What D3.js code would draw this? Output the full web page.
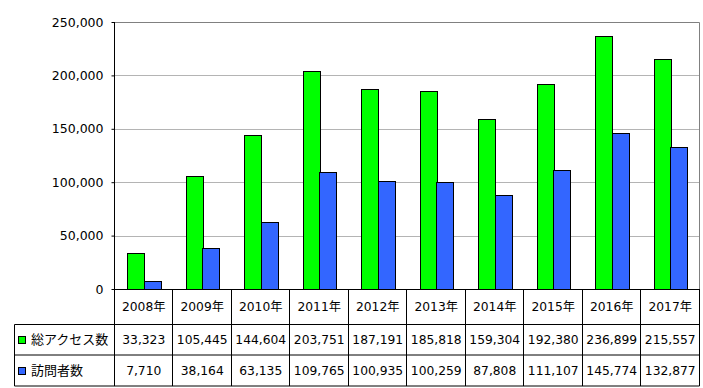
<!DOCTYPE html>
<html>
<head>
<meta charset="utf-8">
<script src="https://cdn.jsdelivr.net/npm/d3@7"></script>
<style>
  body { margin: 0; background: #fff; }
  text { font-family: "DejaVu Sans", "Noto Sans CJK JP", sans-serif; font-size: 12.3px; fill: #000; }
</style>
</head>
<body>
<svg id="chart" width="703" height="388"></svg>
<script>
const years = ['2008年', '2009年', '2010年', '2011年', '2012年', '2013年', '2014年', '2015年', '2016年', '2017年'];
const seriesNames = ['総アクセス数', '訪問者数'];
const seriesColors = ['#00ff00', '#3366ff'];
const totalAccess = [33323, 105445, 144604, 203751, 187191, 185818, 159304, 192380, 236899, 215557];
const visitors = [7710, 38164, 63135, 109765, 100935, 100259, 87808, 111107, 145774, 132877];
const yTicks = [0, 50000, 100000, 150000, 200000, 250000];

const seriesValues = [totalAccess, visitors];
const svg = d3.select('#chart');
const plotLeft = 114.5, plotRight = 699.5, plotTop = 22, plotBottom = 289;
const tableLeft = 14.5, row1 = 324.5, row2 = 355, row3 = 386;
const fmt = d3.format(',');

const x = d3.scaleBand().domain(years).range([plotLeft, plotRight]);
const groupW = x.bandwidth() * 0.565;
const xs = d3.scaleBand().domain(seriesNames).range([0, groupW]);
const y = d3.scaleLinear().domain([0, 250000]).range([plotBottom, plotTop]);

// gridlines
svg.append('g').selectAll('line')
  .data(yTicks.filter(d => d > 0 && d < 250000))
  .enter().append('line')
  .attr('x1', plotLeft).attr('x2', plotRight)
  .attr('y1', d => Math.round(y(d)) + 0.5).attr('y2', d => Math.round(y(d)) + 0.5)
  .attr('stroke', '#b4b4b4');

// top and right border
svg.append('path')
  .attr('d', `M${plotLeft},${plotTop + 0.5}H${plotRight}V${plotBottom}`)
  .attr('fill', 'none').attr('stroke', '#808080');

// bars
seriesNames.forEach((name, si) => {
  svg.append('g').selectAll('rect')
    .data(seriesValues[si])
    .enter().append('rect')
    .attr('x', (d, i) => Math.round(x(years[i]) + (x.bandwidth() - groupW) / 2 + xs(name)) + 0.5)
    .attr('y', d => Math.round(y(d)) + 0.5)
    .attr('width', Math.round(xs.bandwidth()))
    .attr('height', d => plotBottom - Math.round(y(d)))
    .attr('fill', seriesColors[si])
    .attr('stroke', '#000');
});

// y axis
const yAxis = svg.append('g').attr('transform', `translate(${plotLeft},0)`)
  .call(d3.axisLeft(y).tickValues(yTicks).tickFormat(fmt).tickSize(3).tickPadding(8));
yAxis.select('.domain').remove();
yAxis.selectAll('.tick line').attr('stroke', '#000');
yAxis.selectAll('text').style('font-size', '12.5px').attr('fill', '#000')
  .style('font-family', '"DejaVu Sans", sans-serif');
svg.append('line').attr('x1', plotLeft).attr('x2', plotLeft).attr('y1', plotTop).attr('y2', row3)
  .attr('stroke', '#000');

// data table
const table = svg.append('g').attr('stroke', '#000').attr('fill', 'none');
table.append('line').attr('x1', plotLeft).attr('x2', plotRight).attr('y1', plotBottom + 0.5).attr('y2', plotBottom + 0.5);
[row1, row2, row3].forEach(r => {
  table.append('line').attr('x1', tableLeft).attr('x2', plotRight).attr('y1', r).attr('y2', r);
});
table.append('line').attr('x1', tableLeft).attr('x2', tableLeft).attr('y1', row1).attr('y2', row3);
years.forEach(yr => {
  const xr = Math.round(x(yr) + x.bandwidth()) - 0.5;
  table.append('line').attr('x1', xr).attr('x2', xr).attr('y1', plotBottom).attr('y2', row3);
});

svg.append('g').selectAll('text')
  .data(years).enter().append('text')
  .attr('x', d => x(d) + x.bandwidth() / 2)
  .attr('y', (plotBottom + row1) / 2)
  .attr('text-anchor', 'middle').attr('dominant-baseline', 'central')
  .text(d => d);

const rows = [[row1, row2], [row2, row3]];
seriesNames.forEach((name, si) => {
  const cy = (rows[si][0] + rows[si][1]) / 2;
  svg.append('rect').attr('x', 18.5).attr('y', Math.round(cy) - 3.5)
    .attr('width', 7).attr('height', 7)
    .attr('fill', seriesColors[si]).attr('stroke', '#000');
  svg.append('text').attr('x', 31).attr('y', cy)
    .attr('dominant-baseline', 'central').style('font-size', '13px').text(name);
  svg.append('g').selectAll('text')
    .data(seriesValues[si]).enter().append('text')
    .attr('x', (d, i) => x(years[i]) + x.bandwidth() / 2)
    .attr('y', cy)
    .attr('text-anchor', 'middle').attr('dominant-baseline', 'central')
    .text(d => fmt(d));
});
</script>
</body>
</html>
